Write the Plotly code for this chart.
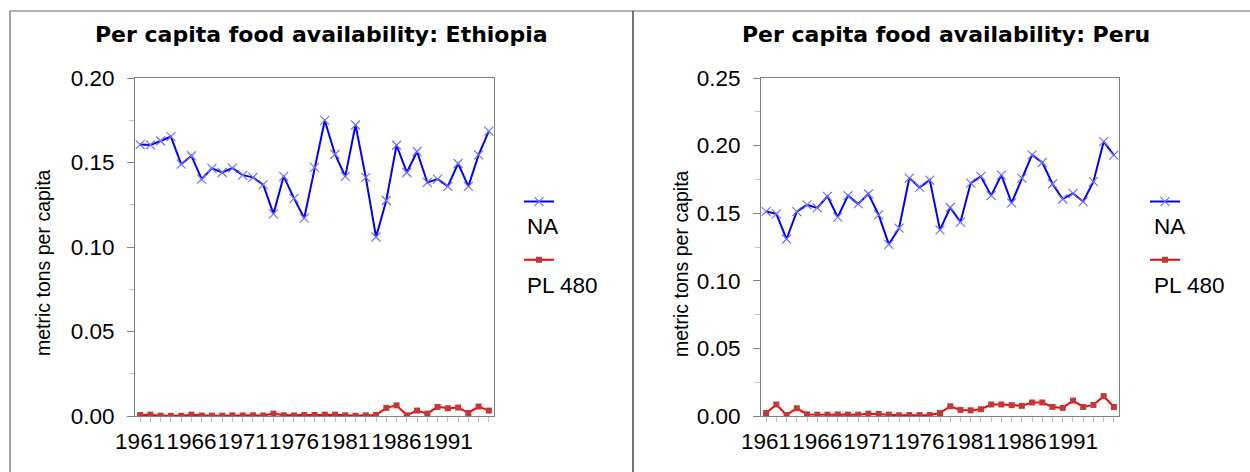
import plotly.graph_objects as go

# ---------------- data ----------------
years = list(range(1961, 1996))

eth_na = [0.1606, 0.1604, 0.1627, 0.1653, 0.1490, 0.1540, 0.1402, 0.1465, 0.1441, 0.1467,
          0.1425, 0.1412, 0.1369, 0.1196, 0.1418, 0.1288, 0.1171, 0.1471, 0.1749, 0.1549,
          0.1418, 0.1722, 0.1412, 0.1059, 0.1275, 0.1602, 0.1441, 0.1565, 0.1382, 0.1402,
          0.1359, 0.1494, 0.1359, 0.1545, 0.1686]
eth_pl480 = [0.0006, 0.0008, 0.0002, 0.0001, 0.0001, 0.0008, 0.0003, 0.0002, 0.0002, 0.0004,
             0.0003, 0.0004, 0.0003, 0.0014, 0.0004, 0.0003, 0.0006, 0.0006, 0.0008, 0.0008,
             0.0004, 0.0001, 0.0004, 0.0006, 0.0048, 0.0063, 0.0004, 0.0032, 0.0014, 0.0054,
             0.0046, 0.0050, 0.0018, 0.0056, 0.0032]
peru_na = [0.1512, 0.1495, 0.1309, 0.1512, 0.1561, 0.1539, 0.1625, 0.1471, 0.1630, 0.1569,
           0.1642, 0.1488, 0.1270, 0.1390, 0.1760, 0.1691, 0.1745, 0.1377, 0.1542, 0.1434,
           0.1723, 0.1772, 0.1630, 0.1782, 0.1576, 0.1760, 0.1931, 0.1875, 0.1716, 0.1605,
           0.1647, 0.1586, 0.1733, 0.2029, 0.1929]
peru_pl480 = [0.0022, 0.0085, 0.0007, 0.0057, 0.0012, 0.0010, 0.0010, 0.0012, 0.0010, 0.0010,
              0.0017, 0.0015, 0.0010, 0.0005, 0.0007, 0.0007, 0.0007, 0.0022, 0.0072, 0.0045,
              0.0042, 0.0050, 0.0085, 0.0085, 0.0080, 0.0075, 0.0100, 0.0100, 0.0067, 0.0060,
              0.0114, 0.0067, 0.0082, 0.0147, 0.0067]

series_names = ["NA", "PL 480"]
titles = ["Per capita food availability: Ethiopia", "Per capita food availability: Peru"]
y_title = "metric tons per capita"
eth_ymax = 0.20
peru_ymax = 0.25

# ---------------- styling ----------------
W, H = 1250, 472
FONT = "Liberation Sans, Arial, sans-serif"
TITLE_FONT = "DejaVu Sans, sans-serif"
AXIS_GRAY = "#808080"
TICK_LIGHT = "#c0c0c0"
NA_LINE = "#0000ff"
NA_MARK = "#7070ff"
PL_LINE = "#ff0000"
PL_MARK = "#c03838"


def px_x(p):
    return p / W


def px_y(p):
    return (H - p) / H


panels = [
    dict(na=eth_na, pl=eth_pl480, ymax=eth_ymax, x0=135, x1=494, legend="legend",
         title=titles[0], title_x=321.5, ytitle_x=43, leg_x=519, lab_x=525),
    dict(na=peru_na, pl=peru_pl480, ymax=peru_ymax, x0=761, x1=1119, legend="legend2",
         title=titles[1], title_x=946, ytitle_x=681, lab_x=1151.5, leg_x=1145),
]
PLOT_TOP, PLOT_BOTTOM = 78, 416

fig = go.Figure()
annotations = []
layout_axes = {}

for i, p in enumerate(panels):
    sfx = "" if i == 0 else str(i + 1)
    xa, ya = "x" + sfx, "y" + sfx
    fig.add_trace(go.Scatter(
        x=years, y=p["na"], name=" ", mode="lines+markers",
        xaxis=xa, yaxis=ya, legend=p["legend"], legendgroup=f"na{i}",
        line=dict(color=NA_LINE, width=2),
        marker=dict(symbol="x-thin", size=9, line=dict(color=NA_MARK, width=1.2)),
        hovertemplate=series_names[0] + ": %{y:.3f}<extra></extra>",
    ))
    fig.add_trace(go.Scatter(
        x=years, y=p["pl"], name=" ", mode="lines+markers",
        xaxis=xa, yaxis=ya, legend=p["legend"], legendgroup=f"pl{i}",
        line=dict(color=PL_LINE, width=2),
        marker=dict(symbol="square", size=6, color=PL_MARK),
        hovertemplate=series_names[1] + ": %{y:.3f}<extra></extra>",
    ))

    layout_axes["xaxis" + sfx] = dict(
        domain=[px_x(p["x0"]), px_x(p["x1"])], anchor=ya,
        range=[years[0] - 0.5, years[-1] + 0.5],
        tickmode="linear", tick0=years[0], dtick=5, tickformat="d", tickangle=0,
        ticks="outside", ticklen=5, tickcolor=TICK_LIGHT,
        minor=dict(dtick=1, tick0=years[0], ticks="outside", ticklen=5, tickcolor=TICK_LIGHT),
        showline=True, linecolor=AXIS_GRAY, linewidth=1, mirror=True,
        showgrid=False, zeroline=False, automargin=False,
        tickfont=dict(family=FONT, size=22.5, color="black"),
        ticklabelstandoff=0,
    )
    yaxis_common = dict(
        domain=[px_y(PLOT_BOTTOM), px_y(PLOT_TOP)], anchor=xa,
        range=[0, p["ymax"]], tickmode="linear", tick0=0, dtick=0.05, tickformat=".2f",
        ticklen=7, tickcolor=AXIS_GRAY,
        showgrid=False, zeroline=False, automargin=False,
    )
    layout_axes["yaxis" + sfx] = dict(
        **yaxis_common, ticks="outside",
        minor=dict(dtick=0.025, ticks="outside", ticklen=5, tickcolor=TICK_LIGHT),
        showline=True, linecolor=AXIS_GRAY, linewidth=1, mirror=True,
        tickfont=dict(family=FONT, size=22.5, color="black"),
        ticklabelstandoff=8,
    )
    # inner half of the crossing tick marks (decoration only, no labels)
    layout_axes["yaxis" + str(i + 3)] = dict(
        **yaxis_common, ticks="inside", overlaying=ya,
        minor=dict(dtick=0.025, ticks="inside", ticklen=5, tickcolor=TICK_LIGHT),
        showline=False, showticklabels=False,
    )

    annotations.append(dict(
        text="<b>" + p["title"] + "</b>", xref="paper", yref="paper",
        x=px_x(p["title_x"]), y=px_y(34.5), xanchor="center", yanchor="middle",
        showarrow=False, font=dict(family=TITLE_FONT, size=22, color="black"),
    ))
    annotations.append(dict(
        text=y_title, xref="paper", yref="paper", textangle=-90,
        x=px_x(p["ytitle_x"]), y=px_y(263), xanchor="center", yanchor="middle",
        showarrow=False, font=dict(family=FONT, size=19.5, color="black"),
    ))
    for name, cy in zip(series_names, [226.7, 285]):
        annotations.append(dict(
            text=name, xref="paper", yref="paper",
            x=px_x(p["lab_x"]), y=px_y(cy), xanchor="left", yanchor="middle",
            showarrow=False, font=dict(family=FONT, size=22.5, color="black"),
        ))

legend_common = dict(
    xanchor="left", yanchor="top", font=dict(family=FONT, size=16),
    bgcolor="rgba(0,0,0,0)", borderwidth=0, tracegroupgap=34.3, itemwidth=30,
)

shapes = [
    dict(type="line", xref="paper", yref="paper", x0=px_x(10), x1=1, y0=px_y(11), y1=px_y(11),
         line=dict(color="#666666", width=1.2)),
    dict(type="line", xref="paper", yref="paper", x0=px_x(10), x1=px_x(10), y0=0, y1=px_y(11),
         line=dict(color="#666666", width=1.2)),
    dict(type="line", xref="paper", yref="paper", x0=px_x(633), x1=px_x(633), y0=0, y1=px_y(11),
         line=dict(color="#555555", width=1.6)),
]

fig.update_layout(
    width=W, height=H,
    margin=dict(l=0, r=0, t=0, b=0, pad=0),
    paper_bgcolor="white", plot_bgcolor="white",
    showlegend=True,
    legend=dict(x=px_x(panels[0]["leg_x"]), y=px_y(184.7), **legend_common),
    legend2=dict(x=px_x(panels[1]["leg_x"]), y=px_y(184.7), **legend_common),
    annotations=annotations,
    shapes=shapes,
    font=dict(family=FONT, color="black"),
    **layout_axes,
)

fig.write_html(
    "out.html",
    config={"displayModeBar": False},
    post_script="document.body.style.margin='0';document.body.style.overflow='hidden';",
)
